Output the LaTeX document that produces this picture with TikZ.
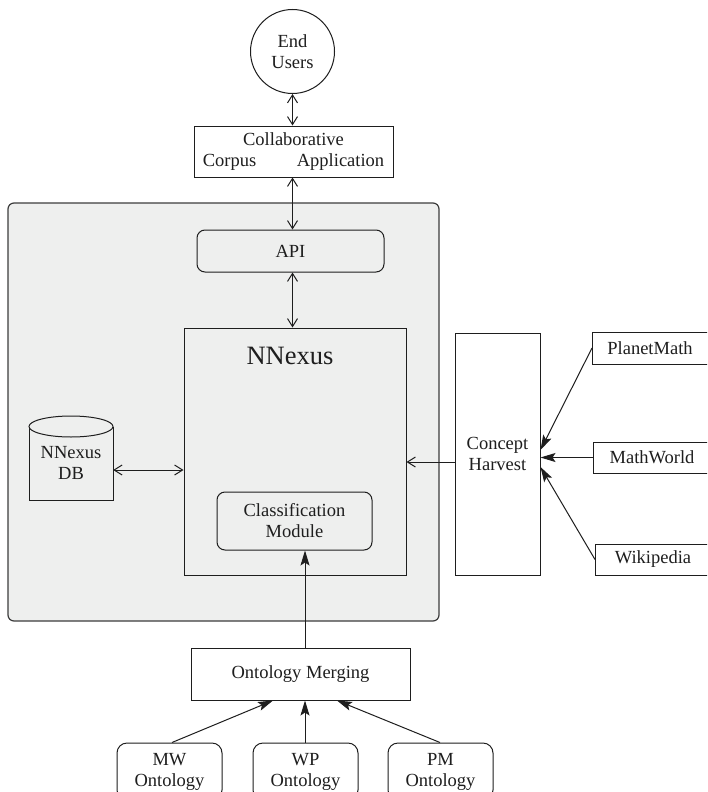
\documentclass[tikz,border=0pt]{standalone}
\usepackage{fontspec}
\setmainfont{Liberation Serif}
\usetikzlibrary{arrows.meta,calc}
\definecolor{ink}{HTML}{1E1E1E}
\definecolor{panel}{HTML}{EEEFEE}
\definecolor{panelline}{HTML}{3C3C3C}
\tikzset{
  txt/.style={font=\fontsize{18.5}{21}\selectfont, text=ink, align=center, inner sep=0pt},
  boxnode/.style={txt, draw=ink, line width=1pt, rectangle},
  rbox/.style={boxnode, rounded corners=8pt},
  conn/.style={draw=ink, line width=1pt},
  openhead/.style={conn, arrows={Straight Barb[length=8pt,width=10pt]-Straight Barb[length=8pt,width=10pt]}},
  openone/.style={conn, -{Straight Barb[length=8pt,width=10pt]}},
  filledone/.style={conn, -{Stealth[length=15pt,width=9pt,inset=3pt]}}
}
\begin{document}
\begin{tikzpicture}[x=1pt,y=-1pt]
\clip (0,0) rectangle (707,792);
\fill[white] (0,0) rectangle (707,792);
% panel
\draw[fill=panel, draw=panelline, line width=1.2pt, rounded corners=6pt] (8,203) rectangle (439,621);
% nodes
\node[boxnode, circle, minimum size=84pt] (eu) at (292.5,51.5) {End\\Users};
\node[boxnode, fill=white, minimum width=199pt, minimum height=51pt] (cca) at (293.5,151.5) {Collaborative\\Corpus\hspace{2.2em}Application};
\node[rbox, minimum width=187pt, minimum height=42pt] (api) at (290.5,251) {API};
\node[boxnode, minimum width=222pt, minimum height=247pt] (nn) at (295,451.5) {};
\node[txt, font=\fontsize{26.5}{30}\selectfont] (nntitle) at (290,356) {NNexus};
\node[rbox, minimum width=155pt, minimum height=58pt] (cm) at (294.5,521) {Classification\\Module};
% database cylinder
\draw[ink, line width=1pt] (29,426.5) -- (29,500) -- (113,500) -- (113,426.5);
\draw[ink, line width=1pt, fill=panel] (71,426.5) ellipse [x radius=42pt, y radius=10.5pt];
\node[txt, minimum width=84pt, minimum height=84pt] (db) at (71,463) {NNexus\\DB};
\node[boxnode, fill=white, minimum width=85pt, minimum height=242pt] (ch) at (497.5,454) {Concept\\Harvest};
\node[boxnode, fill=white, minimum width=118pt, minimum height=32pt, anchor=west] (pm) at (592,348) {\hspace*{-3pt}PlanetMath\hspace*{0pt}};
\node[boxnode, fill=white, minimum width=117pt, minimum height=31pt, anchor=west] (mw) at (593,457.5) {MathWorld};
\node[boxnode, fill=white, minimum width=115pt, minimum height=31pt, anchor=west] (wp) at (595,559.5) {Wikipedia};
\node[boxnode, fill=white, minimum width=219pt, minimum height=52pt] (om) at (300.5,674) {Ontology Merging};
\node[rbox, rounded corners=10pt, minimum width=105pt, minimum height=57pt] (mwo) at (169.5,771.5) {MW\\Ontology};
\node[rbox, rounded corners=10pt, minimum width=105pt, minimum height=57pt] (wpo) at (305.5,771.5) {WP\\Ontology};
\node[rbox, rounded corners=10pt, minimum width=105pt, minimum height=57pt] (pmo) at (440.5,771.5) {PM\\Ontology};
% connectors
\draw[openhead] (eu.south) -- (eu.south |- cca.north);
\coordinate (vx) at (292.5,0);
\draw[openhead] (vx |- cca.south) -- (vx |- api.north);
\draw[openhead] (vx |- api.south) -- (vx |- nn.north);
\coordinate (dby) at (0,470);
\draw[openhead] (db.east |- dby) -- (nn.west |- dby);
\coordinate (chy) at (0,462);
\draw[openone] (ch.west |- chy) -- (nn.east |- chy);
\draw[filledone] (pm.west) -- ([yshift=4pt]ch.east);
\draw[filledone] (mw.west) -- (ch.east |- mw.west);
\draw[filledone] (wp.west) -- ([yshift=-13pt]ch.east);
\coordinate (ax) at (305,0);
\draw[filledone] (ax |- om.north) -- (ax |- cm.south);
\draw[filledone] ([xshift=2.5pt]mwo.north) -- ([xshift=-27.5pt]om.south);
\draw[filledone] (wpo.north -| ax) -- (om.south -| ax);
\draw[filledone] ([xshift=-0.5pt]pmo.north) -- ([xshift=36.5pt]om.south);
\end{tikzpicture}
\end{document}
